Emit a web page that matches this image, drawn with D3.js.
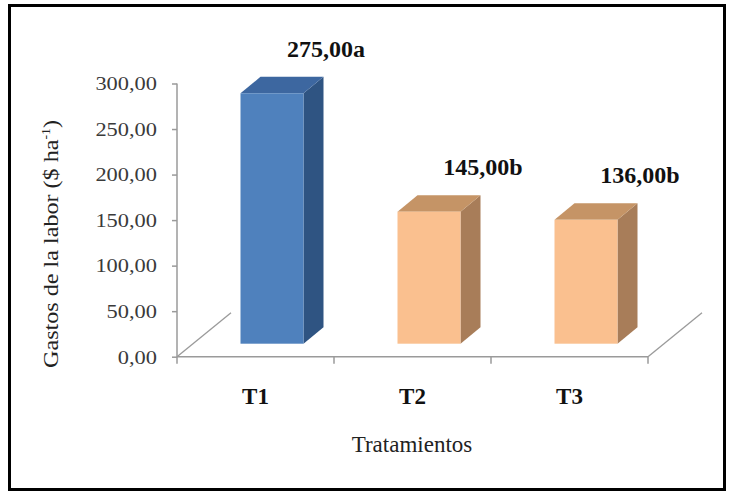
<!DOCTYPE html>
<html>
<head>
<meta charset="utf-8">
<script src="https://cdn.jsdelivr.net/npm/d3@7"></script>
<style>
  html, body { margin: 0; padding: 0; background: #ffffff; }
  svg { display: block; }
</style>
</head>
<body>
<div id="chart"></div>
<script>
// Labour cost per treatment
const categories = ["T1", "T2", "T3"];
const values = [275.00, 145.00, 136.00];
const letters = ["a", "b", "b"];
const yTicks = [0, 50, 100, 150, 200, 250, 300];

const W = 730, H = 491;
const fmt = v => d3.format(".2f")(v).replace(".", ",");

const svg = d3.select("#chart").append("svg")
  .attr("width", W).attr("height", H);

// outer frame
svg.append("rect")
  .attr("x", 9.5).attr("y", 5.5)
  .attr("width", 715).attr("height", 484)
  .attr("fill", "none").attr("stroke", "#000").attr("stroke-width", 3);

const y = d3.scaleLinear().domain([0, 300]).range([356.7, 83.5]);
const x = d3.scaleBand().domain(categories).range([177, 648]).padding(0);

// depth projection of the 3-D floor
const floorDepth = [54, -44];
const barShift = [16.5, -13];   // front face of the bars inside the floor
const barDepth = [20, -16.5];
const barWidth = 63;

const axisColor = "#9a9a9a";

// floor side edges
[177, 648].forEach(px => {
  svg.append("line")
    .attr("x1", px).attr("y1", y(0))
    .attr("x2", px + floorDepth[0]).attr("y2", y(0) + floorDepth[1])
    .attr("stroke", axisColor).attr("stroke-width", 1.3);
});

// y axis
const yAxis = d3.axisLeft(y).tickValues(yTicks).tickSize(5).tickFormat("");
const gy = svg.append("g").attr("transform", "translate(177,0)").call(yAxis);
gy.select(".domain").attr("stroke", axisColor).attr("stroke-width", 1.5)
  .attr("d", `M0,${y(300)}V${y(0) + 7}`);
gy.selectAll(".tick line").attr("stroke", axisColor).attr("stroke-width", 1.5);

// tick labels (serif, slightly wide)
svg.append("g").selectAll("text").data(yTicks).join("text")
  .attr("transform", d => `translate(157,${y(d)}) scale(1.18,1)`)
  .attr("dy", "0.36em")
  .attr("text-anchor", "end")
  .attr("font-family", "Liberation Serif, Times New Roman, serif")
  .attr("font-size", 19)
  .attr("fill", "#3a3a3a")
  .text(d => fmt(d));

// x axis with ticks at category boundaries
const gx = svg.append("g").attr("transform", `translate(0,${y(0)})`);
gx.append("line").attr("x1", 177).attr("x2", 648)
  .attr("stroke", axisColor).attr("stroke-width", 1.5);
gx.selectAll("line.tk").data(categories).join("line").attr("class", "tk")
  .attr("x1", d => x(d) + x.bandwidth()).attr("x2", d => x(d) + x.bandwidth())
  .attr("y1", 0).attr("y2", 7)
  .attr("stroke", axisColor).attr("stroke-width", 1.5);

// category labels
svg.append("g").selectAll("text").data(categories).join("text")
  .attr("x", d => x(d) + x.bandwidth() / 2)
  .attr("y", 404)
  .attr("text-anchor", "middle")
  .attr("font-family", "Liberation Serif, Times New Roman, serif")
  .attr("font-weight", "bold")
  .attr("font-size", 23)
  .attr("fill", "#111")
  .text(d => d);

// 3-D bars
const palette = [
  { front: "#4f81bd", side: "#2f5482", top: "#3d67a0" },
  { front: "#fac08f", side: "#a87d59", top: "#c59466" },
  { front: "#fac08f", side: "#a87d59", top: "#c59466" }
];

const bars = categories.map((c, i) => {
  const left = x(c) + x.bandwidth() / 2 + barShift[0] - barWidth / 2;
  const right = left + barWidth;
  const bottom = y(0) + barShift[1];
  const top = bottom - (y(0) - y(values[i]));
  return { c, i, left, right, bottom, top };
});

const g = svg.append("g");
bars.forEach(b => {
  const col = palette[b.i];
  const [dx, dy] = barDepth;
  // side face
  g.append("path")
    .attr("d", `M${b.right},${b.top}L${b.right + dx},${b.top + dy}L${b.right + dx},${b.bottom + dy}L${b.right},${b.bottom}Z`)
    .attr("fill", col.side);
  // top face
  g.append("path")
    .attr("d", `M${b.left},${b.top}L${b.left + dx},${b.top + dy}L${b.right + dx},${b.top + dy}L${b.right},${b.top}Z`)
    .attr("fill", col.top);
  // front face
  g.append("rect")
    .attr("x", b.left).attr("y", b.top)
    .attr("width", b.right - b.left).attr("height", b.bottom - b.top)
    .attr("fill", col.front);
});

// value labels with significance letters
svg.append("g").selectAll("text").data(bars).join("text")
  .attr("x", b => (b.left + b.right) / 2 + 54)
  .attr("y", b => b.top + barDepth[1] - 20)
  .attr("text-anchor", "middle")
  .attr("font-family", "Liberation Serif, Times New Roman, serif")
  .attr("font-weight", "bold")
  .attr("font-size", 24)
  .attr("fill", "#111")
  .text(b => fmt(values[b.i]) + letters[b.i]);

// axis titles
svg.append("text")
  .attr("x", 412).attr("y", 452)
  .attr("text-anchor", "middle")
  .attr("font-family", "Liberation Serif, Times New Roman, serif")
  .attr("font-size", 23)
  .attr("fill", "#222")
  .text("Tratamientos");

const yt = svg.append("text")
  .attr("transform", "translate(58,244) rotate(-90) scale(1.15,1)")
  .attr("text-anchor", "middle")
  .attr("font-family", "Liberation Serif, Times New Roman, serif")
  .attr("font-size", 21)
  .attr("fill", "#222");
yt.append("tspan").text("Gastos de la labor ($ ha");
yt.append("tspan").attr("font-size", 12).attr("dy", -8).text("-1");
yt.append("tspan").attr("dy", 8).text(")");
</script>
</body>
</html>
